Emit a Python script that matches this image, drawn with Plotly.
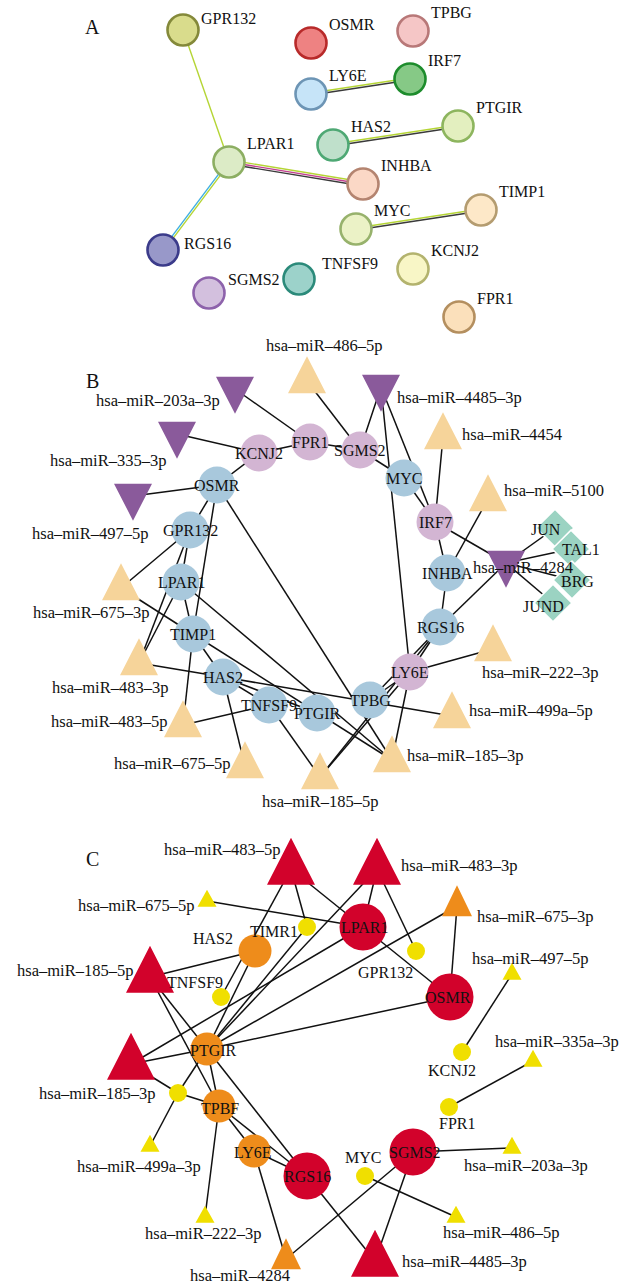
import math
import plotly.graph_objects as go

W, H = 623, 1287
FONT = "Liberation Serif"

# ---------------- A: protein-protein interaction network ----------------
a_nodes = ["GPR132", "OSMR", "TPBG", "LY6E", "IRF7", "HAS2", "PTGIR", "LPAR1",
           "INHBA", "MYC", "TIMP1", "RGS16", "SGMS2", "TNFSF9", "KCNJ2", "FPR1"]
a_x = [183, 311, 413, 311, 410, 333, 458, 229, 363, 356, 481, 163, 209, 299, 413, 459]
a_y = [30, 43, 31, 94, 79, 145, 126, 162, 184, 229, 210, 250, 293, 279, 269, 317]
a_fill = ["#d9dc8c", "#ee8282", "#f5c6c6", "#c6e4f8", "#86c986", "#bfe0cb", "#e3efbf", "#dcebc6",
          "#fbd8c6", "#ebf2c6", "#fde8c8", "#9898c9", "#d3c0de", "#9cd2ca", "#f8f6c6", "#fbe0bb"]
a_rim = ["#84893a", "#b82a2a", "#b87878", "#6d95b5", "#1d8c2c", "#4ea874", "#8db55e", "#8cae62",
         "#b48470", "#97b26c", "#b49c70", "#3b3b8a", "#8d62ab", "#2b8a7a", "#b3b36e", "#b48f5f"]
# each interaction with its evidence channels
a_links = [
    ("GPR132", "LPAR1", ["textmining"]),
    ("LPAR1", "RGS16", ["textmining", "database"]),
    ("LPAR1", "INHBA", ["textmining", "experiment", "coexpression"]),
    ("LY6E", "IRF7", ["textmining", "coexpression"]),
    ("HAS2", "PTGIR", ["textmining", "coexpression"]),
    ("MYC", "TIMP1", ["textmining", "coexpression"]),
]

# ---------------- B: miRNA - mRNA - TF regulatory network ----------------
b_genes = ["KCNJ2", "FPR1", "SGMS2", "MYC", "IRF7", "INHBA", "RGS16", "LY6E",
           "TPBG", "PTGIR", "TNFSF9", "HAS2", "TIMP1", "LPAR1", "GPR132", "OSMR"]
b_gene_x = [259, 310, 360, 404, 435, 447, 440, 410, 370, 317, 269, 223, 193, 181, 190, 217]
b_gene_y = [453, 442, 450, 478, 522, 573, 627, 672, 700, 713, 705, 677, 634, 582, 530, 485]
b_gene_group = ["down", "down", "down", "up", "down", "up", "up", "down",
                "up", "up", "up", "up", "up", "up", "up", "up"]
b_mir_up = ["hsa-miR-486-5p", "hsa-miR-4454", "hsa-miR-5100", "hsa-miR-675-3p",
            "hsa-miR-483-3p", "hsa-miR-483-5p", "hsa-miR-675-5p", "hsa-miR-185-5p",
            "hsa-miR-185-3p", "hsa-miR-499a-5p", "hsa-miR-222-3p"]
b_mir_up_x = [307, 443, 488, 121, 139, 183, 245, 320, 392, 452, 493]
b_mir_up_y = [381, 437, 499, 588, 663, 725, 766, 777, 760, 716, 649]
b_mir_down = ["hsa-miR-203a-3p", "hsa-miR-335-3p", "hsa-miR-497-5p",
              "hsa-miR-4485-3p", "hsa-miR-4284"]
b_mir_down_x = [235, 177, 133, 381, 506]
b_mir_down_y = [389, 434, 496, 387, 563]
b_tf = ["JUN", "TAL1", "BRG", "JUND"]
b_tf_x = [555, 571, 572, 553]
b_tf_y = [528, 549, 580, 603]
b_links = [
    ("hsa-miR-203a-3p", "FPR1"), ("hsa-miR-335-3p", "KCNJ2"), ("KCNJ2", "FPR1"),
    ("FPR1", "SGMS2"), ("hsa-miR-486-5p", "SGMS2"), ("hsa-miR-4485-3p", "SGMS2"),
    ("hsa-miR-4485-3p", "IRF7"), ("SGMS2", "MYC"), ("MYC", "IRF7"),
    ("hsa-miR-4485-3p", "LY6E"), ("hsa-miR-4454", "IRF7"), ("IRF7", "INHBA"),
    ("INHBA", "RGS16"), ("hsa-miR-5100", "INHBA"), ("IRF7", "hsa-miR-4284"),
    ("hsa-miR-4284", "JUN"), ("hsa-miR-4284", "TAL1"), ("hsa-miR-4284", "BRG"),
    ("hsa-miR-4284", "JUND"), ("hsa-miR-4284", "RGS16"), ("RGS16", "LY6E"),
    ("RGS16", "TPBG"), ("LY6E", "TPBG"), ("hsa-miR-185-5p", "LY6E"),
    ("hsa-miR-185-5p", "RGS16"), ("LY6E", "hsa-miR-222-3p"), ("LY6E", "hsa-miR-185-3p"),
    ("HAS2", "hsa-miR-499a-5p"), ("hsa-miR-483-3p", "HAS2"), ("OSMR", "hsa-miR-185-3p"),
    ("OSMR", "TIMP1"), ("OSMR", "hsa-miR-497-5p"), ("OSMR", "KCNJ2"), ("OSMR", "GPR132"),
    ("GPR132", "LPAR1"), ("hsa-miR-675-3p", "GPR132"), ("hsa-miR-675-3p", "TIMP1"),
    ("LPAR1", "hsa-miR-483-3p"), ("GPR132", "hsa-miR-483-3p"), ("LPAR1", "TIMP1"),
    ("LPAR1", "hsa-miR-185-3p"), ("TIMP1", "hsa-miR-185-3p"), ("TIMP1", "hsa-miR-483-5p"),
    ("TIMP1", "HAS2"), ("HAS2", "TNFSF9"), ("HAS2", "hsa-miR-675-5p"),
    ("TNFSF9", "hsa-miR-483-5p"), ("TNFSF9", "hsa-miR-185-5p"), ("HAS2", "PTGIR"),
]

# ---------------- C: hub ranking network ----------------
c_hub = ["LPAR1", "OSMR", "SGMS2", "RGS16"]
c_hub_x = [363, 450, 413, 307]
c_hub_y = [927, 997, 1152, 1176]
c_mid = ["HAS2", "PTGIR", "TPBF", "LY6E"]
c_mid_x = [255, 207, 219, 254]
c_mid_y = [951, 1049, 1106, 1151]
c_low = ["TIMR1", "TNFSF9", "GPR132", "KCNJ2", "FPR1", "MYC", "node17"]
c_low_x = [307, 221, 416, 462, 449, 365, 178]
c_low_y = [927, 997, 951, 1052, 1107, 1176, 1093]
c_low_text = ["TIMR1", "TNFSF9", "GPR132", "KCNJ2", "FPR1", "MYC", ""]
c_mir_hub = ["hsa-miR-483-5p", "hsa-miR-483-3p", "hsa-miR-185-5p", "hsa-miR-185-3p", "hsa-miR-4485-3p"]
c_mir_hub_x = [291, 377, 150, 131, 375]
c_mir_hub_y = [869, 869, 977, 1064, 1261]
c_mir_mid = ["hsa-miR-675-3p", "hsa-miR-4284"]
c_mir_mid_x = [457, 286]
c_mir_mid_y = [906, 1259]
c_mir_low = ["hsa-miR-675-5p", "hsa-miR-497-5p", "hsa-miR-335a-3p", "hsa-miR-203a-3p",
             "hsa-miR-486-5p", "hsa-miR-499a-3p", "hsa-miR-222-3p"]
c_mir_low_x = [207, 512, 533, 512, 456, 150, 205]
c_mir_low_y = [901, 974, 1061, 1148, 1217, 1146, 1217]
c_links = [
    ("hsa-miR-483-5p", "TIMR1"), ("hsa-miR-483-5p", "LPAR1"), ("hsa-miR-483-5p", "TNFSF9"),
    ("hsa-miR-675-5p", "LPAR1"), ("hsa-miR-185-5p", "HAS2"), ("hsa-miR-185-5p", "PTGIR"),
    ("hsa-miR-185-5p", "TPBF"), ("HAS2", "PTGIR"), ("PTGIR", "TIMR1"),
    ("PTGIR", "hsa-miR-483-3p"), ("PTGIR", "hsa-miR-675-3p"), ("PTGIR", "OSMR"),
    ("hsa-miR-185-3p", "LPAR1"), ("hsa-miR-185-3p", "PTGIR"), ("hsa-miR-185-3p", "node17"),
    ("node17", "PTGIR"), ("node17", "TPBF"), ("node17", "hsa-miR-499a-3p"),
    ("PTGIR", "TPBF"), ("PTGIR", "RGS16"), ("TPBF", "LY6E"), ("TPBF", "hsa-miR-222-3p"),
    ("LY6E", "RGS16"), ("TPBF", "RGS16"), ("LY6E", "hsa-miR-4284"),
    ("RGS16", "hsa-miR-4485-3p"), ("SGMS2", "hsa-miR-4284"), ("SGMS2", "hsa-miR-4485-3p"),
    ("SGMS2", "hsa-miR-203a-3p"), ("MYC", "hsa-miR-486-5p"), ("FPR1", "hsa-miR-335a-3p"),
    ("KCNJ2", "hsa-miR-497-5p"), ("OSMR", "hsa-miR-675-3p"), ("OSMR", "LPAR1"),
    ("hsa-miR-483-3p", "LPAR1"), ("hsa-miR-483-3p", "GPR132"),
]

# ---------------- styling ----------------
CHANNEL_COLOR = {"textmining": "#b5d535", "coexpression": "#3a3a3a",
                 "experiment": "#c2418f", "database": "#3fb0e2"}
B_COLORS = {"up": "#a8c8dc", "down": "#d3b5d3", "mir_up": "#f6d49a",
            "mir_down": "#8a5a9b", "tf": "#9bd3c2"}
C_RED, C_ORANGE, C_YELLOW = "#d2022b", "#ee8c1b", "#f0df00"
GENE_PT, MIR_PT, PANEL_PT = 16, 16.5, 20

# label offsets (dx, dy, anchor) relative to each node
a_label_off = {n: (16, -19, "left") for n in a_nodes}
a_label_off.update({"GPR132": (16, -12, "left"), "RGS16": (19, -7, "left"),
                    "SGMS2": (17, -14, "left"), "TNFSF9": (21, -16, "left")})
b_label_off = {
    "hsa-miR-486-5p": (17, -36, "center"), "hsa-miR-203a-3p": (-13, 11, "right"),
    "hsa-miR-4485-3p": (14, 10, "left"), "hsa-miR-335-3p": (-9, 26, "right"),
    "hsa-miR-4454": (17, -3, "left"), "hsa-miR-497-5p": (17, 37, "right"),
    "hsa-miR-5100": (14, -9, "left"), "hsa-miR-4284": (-35, 4, "left"),
    "hsa-miR-675-3p": (-30, 24, "center"), "hsa-miR-483-3p": (-29, 24, "center"),
    "hsa-miR-483-5p": (-14, -4, "right"), "hsa-miR-675-5p": (-13, -3, "right"),
    "hsa-miR-185-5p": (0, 24, "center"), "hsa-miR-185-3p": (13, -5, "left"),
    "hsa-miR-499a-5p": (15, -6, "left"), "hsa-miR-222-3p": (-13, 23, "left"),
    "JUN": (-9, 1, "center"), "TAL1": (10, 0, "center"), "BRG": (5, 1, "center"),
    "JUND": (-10, 3, "center"),
}
c_label_off = {
    "hsa-miR-483-5p": (-9, -20, "right"), "hsa-miR-483-3p": (22, -4, "left"),
    "hsa-miR-675-5p": (-11, 4, "right"), "hsa-miR-675-3p": (18, 10, "left"),
    "hsa-miR-497-5p": (18, -16, "center"), "hsa-miR-185-5p": (-15, -7, "right"),
    "hsa-miR-185-3p": (26, 29, "right"), "hsa-miR-335a-3p": (88, -20, "right"),
    "hsa-miR-203a-3p": (14, 17, "center"), "hsa-miR-486-5p": (45, 15, "center"),
    "hsa-miR-4485-3p": (25, 0, "left"), "hsa-miR-499a-3p": (-11, 20, "center"),
    "hsa-miR-222-3p": (-2, 16, "center"), "hsa-miR-4284": (-46, 16, "center"),
    "TIMR1": (-7, 4, "right"), "HAS2": (-20, -13, "right"), "TNFSF9": (4, -15, "right"),
    "GPR132": (-1, 21, "right"), "KCNJ2": (-10, 18, "center"), "FPR1": (8, 16, "center"),
    "MYC": (-2, -19, "center"), "PTGIR": (6, 1, "center"), "TPBF": (1, 2, "center"),
    "LY6E": (-1, 1, "center"), "LPAR1": (1, 0, "center"), "OSMR": (-2, 0, "center"),
    "SGMS2": (2, 0, "center"), "RGS16": (0, 0, "center"),
}

fig = go.Figure()
annotations = []


def show(name):
    return name.replace("-", "\u2013")


def add_label(x, y, text, size, off=(0, 0, "center")):
    dx, dy, anchor = off
    annotations.append(dict(x=x + dx, y=y + dy, text=text, showarrow=False,
                            xanchor=anchor, yanchor="middle",
                            font=dict(family=FONT, size=size, color="#111111")))


def edge_trace(pos, links, width=1.4, color="#111111"):
    ex, ey = [], []
    for s, t in links:
        (x0, y0), (x1, y1) = pos[s], pos[t]
        ex += [x0, x1, None]
        ey += [y0, y1, None]
    fig.add_trace(go.Scatter(x=ex, y=ey, mode="lines", hoverinfo="skip",
                             line=dict(color=color, width=width)))


def triangles(xs, ys, w, h, color, up=True):
    px, py = [], []
    for x, y in zip(xs, ys):
        if up:
            pts = [(x - w / 2, y + h / 3), (x + w / 2, y + h / 3), (x, y - 2 * h / 3)]
        else:
            pts = [(x - w / 2, y - h / 3), (x + w / 2, y - h / 3), (x, y + 2 * h / 3)]
        for a, b in pts + [pts[0]]:
            px.append(a)
            py.append(b)
        px.append(None)
        py.append(None)
    fig.add_trace(go.Scatter(x=px, y=py, mode="lines", fill="toself", fillcolor=color,
                             line=dict(width=0, color=color), hoverinfo="skip"))


def circles(xs, ys, size, color):
    fig.add_trace(go.Scatter(x=xs, y=ys, mode="markers", hoverinfo="skip",
                             marker=dict(size=size, color=color, line=dict(width=0))))


# ---- panel A ----
a_pos = dict(zip(a_nodes, zip(a_x, a_y)))
spacing = 2.0
for s, t, chans in a_links:
    (x0, y0), (x1, y1) = a_pos[s], a_pos[t]
    L = math.hypot(x1 - x0, y1 - y0)
    nx, ny = -(y1 - y0) / L, (x1 - x0) / L
    for i, ch in enumerate(chans):
        o = (i - (len(chans) - 1) / 2) * spacing
        fig.add_trace(go.Scatter(x=[x0 + nx * o, x1 + nx * o], y=[y0 + ny * o, y1 + ny * o],
                                 mode="lines", hoverinfo="skip",
                                 line=dict(color=CHANNEL_COLOR[ch], width=1.4)))
fig.add_trace(go.Scatter(x=a_x, y=a_y, mode="markers", hoverinfo="skip",
                         marker=dict(size=31, color=a_fill, line=dict(color=a_rim, width=2.6))))
for n, x, y in zip(a_nodes, a_x, a_y):
    add_label(x, y, n, GENE_PT, a_label_off[n])
add_label(92, 27, "A", PANEL_PT)

# ---- panel B ----
b_pos = {}
b_pos.update(zip(b_genes, zip(b_gene_x, b_gene_y)))
b_pos.update(zip(b_mir_up, zip(b_mir_up_x, b_mir_up_y)))
b_pos.update(zip(b_mir_down, zip(b_mir_down_x, b_mir_down_y)))
b_pos.update(zip(b_tf, zip(b_tf_x, b_tf_y)))
edge_trace(b_pos, b_links, width=1.5)
triangles(b_mir_up_x, b_mir_up_y, 38, 37, B_COLORS["mir_up"], up=True)
triangles(b_mir_down_x, b_mir_down_y, 38, 37, B_COLORS["mir_down"], up=False)
circles(b_gene_x, b_gene_y, 37, [B_COLORS[g] for g in b_gene_group])
fig.add_trace(go.Scatter(x=b_tf_x, y=b_tf_y, mode="markers", hoverinfo="skip",
                         marker=dict(symbol="diamond", size=29, color=B_COLORS["tf"],
                                     line=dict(color="white", width=1.5))))
for n, x, y in zip(b_genes, b_gene_x, b_gene_y):
    add_label(x, y, n, GENE_PT)
for n, x, y in zip(b_mir_up + b_mir_down + b_tf,
                   b_mir_up_x + b_mir_down_x + b_tf_x,
                   b_mir_up_y + b_mir_down_y + b_tf_y):
    add_label(x, y, show(n), MIR_PT if n.startswith("hsa") else GENE_PT, b_label_off[n])
add_label(92, 381, "B", PANEL_PT)

# ---- panel C ----
c_pos = {}
for names, xs, ys in [(c_hub, c_hub_x, c_hub_y), (c_mid, c_mid_x, c_mid_y),
                      (c_low, c_low_x, c_low_y), (c_mir_hub, c_mir_hub_x, c_mir_hub_y),
                      (c_mir_mid, c_mir_mid_x, c_mir_mid_y), (c_mir_low, c_mir_low_x, c_mir_low_y)]:
    c_pos.update(zip(names, zip(xs, ys)))
edge_trace(c_pos, c_links, width=1.5)
triangles(c_mir_hub_x, c_mir_hub_y, 48, 47, C_RED)
triangles(c_mir_mid_x, c_mir_mid_y, 30, 31, C_ORANGE)
triangles(c_mir_low_x, c_mir_low_y, 19, 17, C_YELLOW)
circles(c_hub_x, c_hub_y, 47, C_RED)
circles(c_mid_x, c_mid_y, 33, C_ORANGE)
circles(c_low_x, c_low_y, 18, C_YELLOW)
for n, x, y in zip(c_hub + c_mid, c_hub_x + c_mid_x, c_hub_y + c_mid_y):
    add_label(x, y, n, GENE_PT, c_label_off[n])
for n, t, x, y in zip(c_low, c_low_text, c_low_x, c_low_y):
    if t:
        add_label(x, y, t, GENE_PT, c_label_off[n])
for n, x, y in zip(c_mir_hub + c_mir_mid + c_mir_low,
                   c_mir_hub_x + c_mir_mid_x + c_mir_low_x,
                   c_mir_hub_y + c_mir_mid_y + c_mir_low_y):
    add_label(x, y, show(n), MIR_PT, c_label_off[n])
add_label(92, 859, "C", PANEL_PT)

fig.update_layout(
    width=W, height=H, margin=dict(l=0, r=0, t=0, b=0),
    paper_bgcolor="white", plot_bgcolor="white", showlegend=False,
    xaxis=dict(range=[0, W], visible=False, fixedrange=True),
    yaxis=dict(range=[H, 0], visible=False, fixedrange=True),
    annotations=annotations,
)
fig.write_html("out.html", config={"displayModeBar": False})
